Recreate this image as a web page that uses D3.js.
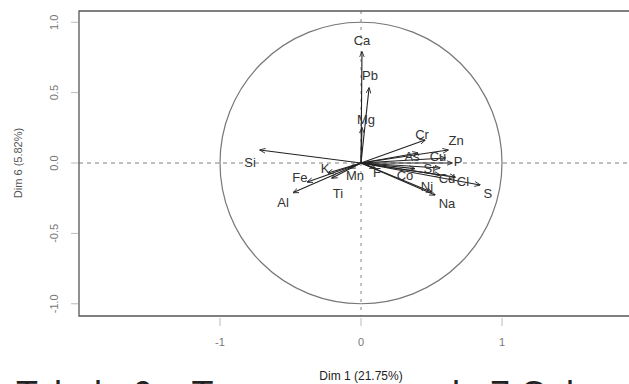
<!DOCTYPE html>
<html>
<head>
<meta charset="utf-8">
<script src="https://cdn.jsdelivr.net/npm/d3@7"></script>
<style>
  body { margin: 0; background: #fff; }
  svg { display: block; font-family: "Liberation Sans", Arial, sans-serif; }
</style>
</head>
<body>
<div id="chart"></div>
<script>

// variable coordinates on Dim 1 / Dim 6
var varNames = ["Ca", "Pb", "Mg", "Si", "Al", "Fe", "K", "Ti", "Mn", "F",
                "Cr", "Zn", "As", "Cu", "P", "Co", "Sr", "Cd", "Cl", "S", "Ni", "Na"];
var dim1 = [0.007, 0.057, 0.007, -0.716, -0.48, -0.38, -0.234, -0.206, -0.078, 0.10,
            0.454, 0.617, 0.404, 0.596, 0.645, 0.38, 0.56, 0.56, 0.667, 0.844, 0.50, 0.525];
var dim6 = [0.789, 0.533, 0.25, 0.092, -0.21, -0.135, -0.071, -0.107, -0.036, -0.035,
            0.163, 0.092, 0.071, 0.036, 0.0, -0.04, -0.035, -0.085, -0.10, -0.156, -0.206, -0.227];
// label anchor points (data units)
var labDim1 = [0.007, 0.064, 0.035, -0.787, -0.553, -0.433, -0.255, -0.163, -0.043, 0.113,
               0.433, 0.674, 0.362, 0.546, 0.688, 0.312, 0.49, 0.61, 0.723, 0.90, 0.468, 0.61];
var labDim6 = [0.874, 0.625, 0.306, 0.007, -0.277, -0.10, -0.036, -0.213, -0.085, -0.064,
               0.206, 0.163, 0.05, 0.05, 0.014, -0.085, -0.036, -0.107, -0.128, -0.213, -0.17, -0.284];

var xTicks = [-1, 0, 1];
var yTicks = [-1, -0.5, 0, 0.5, 1];
var xTitle = "Dim 1 (21.75%)";
var yTitle = "Dim 6 (5.82%)";
var footLeft = "Tabela 6 \u2013 Te";
var footRight = "do 7 Colunas";

var W = 629, H = 384;
var svg = d3.select("#chart").append("svg")
    .attr("width", W)
    .attr("height", H);

var x = d3.scaleLinear().domain([-2, 2]).range([79, 643]);
var y = d3.scaleLinear().domain([-1.087, 1.08]).range([316, 11]);

svg.append("defs").append("marker")
    .attr("id", "head")
    .attr("viewBox", "0 0 10 10")
    .attr("refX", 9).attr("refY", 5)
    .attr("markerWidth", 6).attr("markerHeight", 6)
    .attr("markerUnits", "userSpaceOnUse")
    .attr("orient", "auto")
    .append("path")
    .attr("d", "M0,1 L10,5 L0,9")
    .attr("fill", "none")
    .attr("stroke", "#222")
    .attr("stroke-width", 1.4);

// reference lines
svg.append("line")
    .attr("x1", x.range()[0]).attr("x2", W)
    .attr("y1", y(0)).attr("y2", y(0))
    .attr("stroke", "#aaa").attr("stroke-width", 1.6)
    .attr("stroke-dasharray", "4,4");
svg.append("line")
    .attr("x1", x(0)).attr("x2", x(0))
    .attr("y1", y.range()[1]).attr("y2", y.range()[0])
    .attr("stroke", "#666").attr("stroke-width", 0.8)
    .attr("stroke-dasharray", "3,5");

// correlation circle
svg.append("ellipse")
    .attr("cx", x(0)).attr("cy", y(0))
    .attr("rx", x(1) - x(0)).attr("ry", y(0) - y(1))
    .attr("fill", "none")
    .attr("stroke", "#777").attr("stroke-width", 1.2);

// arrows
var vars = varNames.map(function(d, i) {
    return { name: d, x: dim1[i], y: dim6[i], lx: labDim1[i], ly: labDim6[i] };
});

svg.selectAll(".arrow")
    .data(vars)
    .enter().append("line")
    .attr("class", "arrow")
    .attr("x1", x(0)).attr("y1", y(0))
    .attr("x2", function(d) { return x(d.x); })
    .attr("y2", function(d) { return y(d.y); })
    .attr("stroke", "#222")
    .attr("stroke-width", 1.1)
    .attr("marker-end", "url(#head)");

svg.selectAll(".vlab")
    .data(vars)
    .enter().append("text")
    .attr("class", "vlab")
    .attr("x", function(d) { return x(d.lx); })
    .attr("y", function(d) { return y(d.ly); })
    .attr("dy", "0.35em")
    .attr("text-anchor", "middle")
    .attr("font-size", 13)
    .attr("fill", "#333")
    .text(function(d) { return d.name; });

// box (right side runs off the picture)
svg.append("path")
    .attr("d", "M" + W + "," + y.range()[1] + "H" + x.range()[0] + "V" + y.range()[0] + "H" + W)
    .attr("fill", "none")
    .attr("stroke", "#555")
    .attr("stroke-width", 1.3);

// x axis ticks
svg.selectAll(".xt")
    .data(xTicks)
    .enter().append("line")
    .attr("x1", function(d) { return x(d); })
    .attr("x2", function(d) { return x(d); })
    .attr("y1", 318).attr("y2", 326)
    .attr("stroke", "#bbb").attr("stroke-width", 1);
svg.selectAll(".xl")
    .data(xTicks)
    .enter().append("text")
    .attr("x", function(d) { return x(d); })
    .attr("y", 342)
    .attr("dy", "0.35em")
    .attr("text-anchor", "middle")
    .attr("font-size", 11)
    .attr("fill", "#777")
    .text(function(d) { return d3.format("d")(d).replace("−", "-"); });

// y axis ticks
svg.selectAll(".yt")
    .data(yTicks)
    .enter().append("line")
    .attr("x1", 71).attr("x2", 78)
    .attr("y1", function(d) { return y(d); })
    .attr("y2", function(d) { return y(d); })
    .attr("stroke", "#bbb").attr("stroke-width", 1);
svg.selectAll(".yl")
    .data(yTicks)
    .enter().append("text")
    .attr("transform", function(d) { return "translate(54," + y(d) + ") rotate(-90)"; })
    .attr("dy", "0.35em")
    .attr("text-anchor", "middle")
    .attr("font-size", 11)
    .attr("fill", "#777")
    .text(function(d) { return d3.format(".1f")(d).replace("−", "-"); });

// axis titles
svg.append("text")
    .attr("transform", "translate(18," + y(0) + ") rotate(-90)")
    .attr("dy", "0.35em")
    .attr("text-anchor", "middle")
    .attr("font-size", 11)
    .attr("fill", "#555")
    .text(yTitle);

svg.append("text")
    .attr("x", x(0))
    .attr("y", 376)
    .attr("dy", "0.35em")
    .attr("text-anchor", "middle")
    .attr("font-size", 12)
    .attr("fill", "#222")
    .text(xTitle);

// cut-off caption line underneath the figure, on both sides of the x title
svg.append("text")
    .attr("x", 16)
    .attr("y", 407)
    .attr("font-size", 36)
    .attr("fill", "#222")
    .text(footLeft);
svg.append("text")
    .attr("x", 440)
    .attr("y", 407)
    .attr("font-size", 36)
    .attr("fill", "#222")
    .text(footRight);

</script>
</body>
</html>
